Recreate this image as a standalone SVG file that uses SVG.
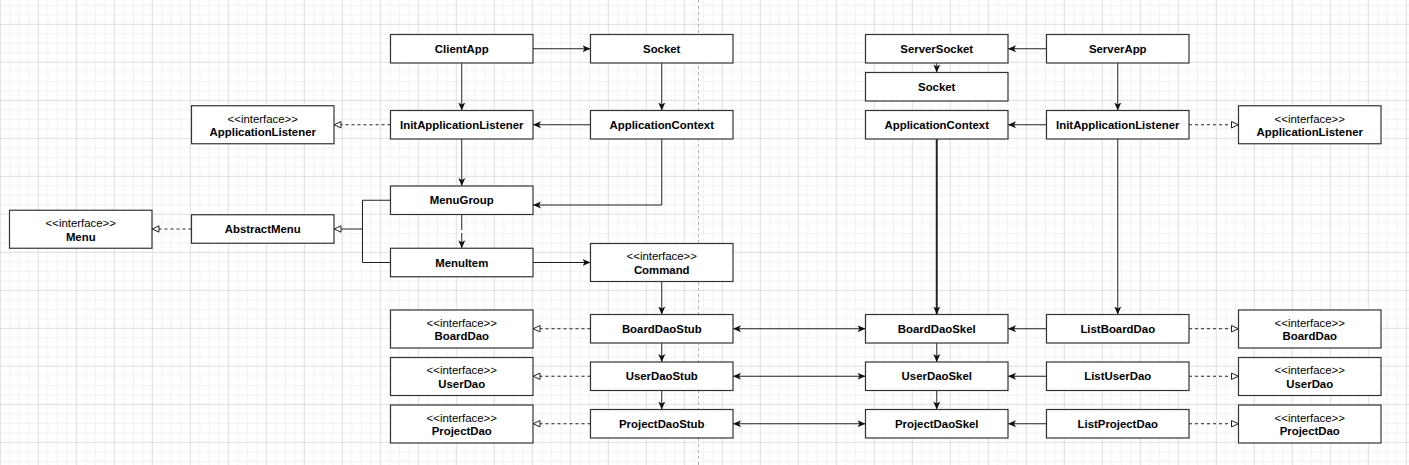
<svg xmlns="http://www.w3.org/2000/svg" width="1409" height="465" viewBox="0 0 1409 465">
<style>
.box{fill:#fff;stroke:#333;stroke-width:1.2}
.t{font-family:"Liberation Sans",Arial,sans-serif;font-size:11.4px;fill:#000;text-anchor:middle}
.b{font-weight:bold}
.c{fill:none;stroke:#222;stroke-width:1}
.arr{marker-end:url(#fa)}
.dbl{marker-start:url(#fa);marker-end:url(#fa)}
.real{stroke-dasharray:3 3;marker-end:url(#ha)}
.inh{marker-end:url(#ha)}
</style>
<defs>
<pattern id="grid" x="37.8" y="23.8" width="38" height="38" patternUnits="userSpaceOnUse">
<path d="M10,0V38M19.5,0V38M29,0V38M0,10H38M0,19.5H38M0,29H38" stroke="#f1f1f1" stroke-width="1" fill="none"/>
<path d="M0.5,0V38M0,0.5H38" stroke="#dedede" stroke-width="1" fill="none"/>
</pattern>
<marker id="fa" viewBox="0 0 8 8" refX="8" refY="4" markerWidth="8" markerHeight="8" markerUnits="userSpaceOnUse" orient="auto-start-reverse">
<path d="M0,0.5L8,4L0,7.5L2,4Z" fill="#111"/>
</marker>
<marker id="ha" viewBox="0 0 9 9" refX="8.5" refY="4.5" markerWidth="9" markerHeight="9" markerUnits="userSpaceOnUse" orient="auto">
<path d="M1.5,1.3L8.3,4.5L1.5,7.7Z" fill="#fff" stroke="#222" stroke-width="1"/>
</marker>
</defs>
<rect x="0" y="0" width="1409" height="465" fill="#fff"/>
<rect x="0" y="0" width="1409" height="465" fill="url(#grid)"/>
<line x1="698.5" y1="0" x2="698.5" y2="465" stroke="#b3b3b3" stroke-width="1" stroke-dasharray="3 3"/>

<g id="connectors">
<path class="c arr" d="M533,48.75H590.5"/>
<path class="c arr" d="M461.75,63V110.5"/>
<path class="c arr" d="M661.75,63V110.5"/>
<path class="c arr" d="M590.5,124.75H533"/>
<path class="c real" d="M390.5,124.75H334"/>
<path class="c arr" d="M461.75,139V186"/>
<path class="c arr" d="M661.75,139V205H533"/>
<path class="c" d="M461.75,214.5V230"/>
<path class="c arr" d="M461.75,233V248.25"/>
<path class="c inh" d="M390.5,200.25H362.5V229H334"/>
<path class="c" d="M390.5,262.5H362.5V229"/>
<path class="c real" d="M191.5,229H152"/>
<path class="c arr" d="M533,262.5H590.5"/>
<path class="c arr" d="M661.75,281.5V314.5"/>
<path class="c arr" d="M661.75,343V362"/>
<path class="c arr" d="M661.75,390.5V409.5"/>
<path class="c real" d="M590.5,328.75H533"/>
<path class="c real" d="M590.5,376.25H533"/>
<path class="c real" d="M590.5,423.75H533"/>
<path class="c dbl" d="M733,328.75H865.5"/>
<path class="c dbl" d="M733,376.25H865.5"/>
<path class="c dbl" d="M733,423.75H865.5"/>
<path class="c arr" d="M1046.5,48.75H1008"/>
<path class="c arr" d="M936.75,63V72.5"/>
<path class="c arr" d="M1117.75,63V110.5"/>
<path class="c arr" d="M1046.5,124.75H1008"/>
<path class="c real" d="M1189,124.75H1238.5"/>
<path class="c arr" d="M936.75,139V314.5" style="stroke-width:2"/>
<path class="c arr" d="M1117.75,139V314.5"/>
<path class="c arr" d="M936.75,343V362"/>
<path class="c arr" d="M936.75,390.5V409.5"/>
<path class="c arr" d="M1046.5,328.75H1008"/>
<path class="c arr" d="M1046.5,376.25H1008"/>
<path class="c arr" d="M1046.5,423.75H1008"/>
<path class="c real" d="M1189,328.75H1238.5"/>
<path class="c real" d="M1189,376.25H1238.5"/>
<path class="c real" d="M1189,423.75H1238.5"/>
</g>

<g id="clientApp"><rect class="box" x="390.5" y="34.5" width="142.5" height="28.5"/><text class="t b" x="461.75" y="52.8">ClientApp</text></g>
<g id="socketL"><rect class="box" x="590.5" y="34.5" width="142.5" height="28.5"/><text class="t b" x="661.75" y="52.8">Socket</text></g>
<g id="initAppListenerL"><rect class="box" x="390.5" y="110.5" width="142.5" height="28.5"/><text class="t b" x="461.75" y="128.8">InitApplicationListener</text></g>
<g id="appContextL"><rect class="box" x="590.5" y="110.5" width="142.5" height="28.5"/><text class="t b" x="661.75" y="128.8">ApplicationContext</text></g>
<g id="appListenerL"><rect class="box" x="191.5" y="105.75" width="142.5" height="38"/><text class="t" x="262.75" y="122.7">&lt;&lt;interface&gt;&gt;</text><text class="t b" x="262.75" y="136">ApplicationListener</text></g>
<g id="menuGroup"><rect class="box" x="390.5" y="186" width="142.5" height="28.5"/><text class="t b" x="461.75" y="204.3">MenuGroup</text></g>
<g id="menuItem"><rect class="box" x="390.5" y="248.25" width="142.5" height="28.5"/><text class="t b" x="461.75" y="266.6">MenuItem</text></g>
<g id="abstractMenu"><rect class="box" x="191.5" y="214.75" width="142.5" height="28.5"/><text class="t b" x="262.75" y="233">AbstractMenu</text></g>
<g id="menu"><rect class="box" x="9.5" y="210.25" width="142.5" height="38"/><text class="t" x="80.75" y="227.2">&lt;&lt;interface&gt;&gt;</text><text class="t b" x="80.75" y="240.5">Menu</text></g>
<g id="command"><rect class="box" x="590.5" y="243.5" width="142.5" height="38"/><text class="t" x="661.75" y="260.4">&lt;&lt;interface&gt;&gt;</text><text class="t b" x="661.75" y="273.7">Command</text></g>
<g id="boardDaoL"><rect class="box" x="390.5" y="310" width="142.5" height="38"/><text class="t" x="461.75" y="326.9">&lt;&lt;interface&gt;&gt;</text><text class="t b" x="461.75" y="340.2">BoardDao</text></g>
<g id="userDaoL"><rect class="box" x="390.5" y="357.5" width="142.5" height="38"/><text class="t" x="461.75" y="374.4">&lt;&lt;interface&gt;&gt;</text><text class="t b" x="461.75" y="387.7">UserDao</text></g>
<g id="projectDaoL"><rect class="box" x="390.5" y="405" width="142.5" height="38"/><text class="t" x="461.75" y="421.9">&lt;&lt;interface&gt;&gt;</text><text class="t b" x="461.75" y="435.2">ProjectDao</text></g>
<g id="boardDaoStub"><rect class="box" x="590.5" y="314.5" width="142.5" height="28.5"/><text class="t b" x="661.75" y="332.8">BoardDaoStub</text></g>
<g id="userDaoStub"><rect class="box" x="590.5" y="362" width="142.5" height="28.5"/><text class="t b" x="661.75" y="380.3">UserDaoStub</text></g>
<g id="projectDaoStub"><rect class="box" x="590.5" y="409.5" width="142.5" height="28.5"/><text class="t b" x="661.75" y="427.8">ProjectDaoStub</text></g>

<g id="serverSocket"><rect class="box" x="865.5" y="34.5" width="142.5" height="28.5"/><text class="t b" x="936.75" y="52.8">ServerSocket</text></g>
<g id="socketR"><rect class="box" x="865.5" y="72.5" width="142.5" height="28.5"/><text class="t b" x="936.75" y="90.8">Socket</text></g>
<g id="appContextR"><rect class="box" x="865.5" y="110.5" width="142.5" height="28.5"/><text class="t b" x="936.75" y="128.8">ApplicationContext</text></g>
<g id="serverApp"><rect class="box" x="1046.5" y="34.5" width="142.5" height="28.5"/><text class="t b" x="1117.75" y="52.8">ServerApp</text></g>
<g id="initAppListenerR"><rect class="box" x="1046.5" y="110.5" width="142.5" height="28.5"/><text class="t b" x="1117.75" y="128.8">InitApplicationListener</text></g>
<g id="appListenerR"><rect class="box" x="1238.5" y="105.75" width="142.5" height="38"/><text class="t" x="1309.75" y="122.7">&lt;&lt;interface&gt;&gt;</text><text class="t b" x="1309.75" y="136">ApplicationListener</text></g>
<g id="boardDaoSkel"><rect class="box" x="865.5" y="314.5" width="142.5" height="28.5"/><text class="t b" x="936.75" y="332.8">BoardDaoSkel</text></g>
<g id="userDaoSkel"><rect class="box" x="865.5" y="362" width="142.5" height="28.5"/><text class="t b" x="936.75" y="380.3">UserDaoSkel</text></g>
<g id="projectDaoSkel"><rect class="box" x="865.5" y="409.5" width="142.5" height="28.5"/><text class="t b" x="936.75" y="427.8">ProjectDaoSkel</text></g>
<g id="listBoardDao"><rect class="box" x="1046.5" y="314.5" width="142.5" height="28.5"/><text class="t b" x="1117.75" y="332.8">ListBoardDao</text></g>
<g id="listUserDao"><rect class="box" x="1046.5" y="362" width="142.5" height="28.5"/><text class="t b" x="1117.75" y="380.3">ListUserDao</text></g>
<g id="listProjectDao"><rect class="box" x="1046.5" y="409.5" width="142.5" height="28.5"/><text class="t b" x="1117.75" y="427.8">ListProjectDao</text></g>
<g id="boardDaoR"><rect class="box" x="1238.5" y="310" width="142.5" height="38"/><text class="t" x="1309.75" y="326.9">&lt;&lt;interface&gt;&gt;</text><text class="t b" x="1309.75" y="340.2">BoardDao</text></g>
<g id="userDaoR"><rect class="box" x="1238.5" y="357.5" width="142.5" height="38"/><text class="t" x="1309.75" y="374.4">&lt;&lt;interface&gt;&gt;</text><text class="t b" x="1309.75" y="387.7">UserDao</text></g>
<g id="projectDaoR"><rect class="box" x="1238.5" y="405" width="142.5" height="38"/><text class="t" x="1309.75" y="421.9">&lt;&lt;interface&gt;&gt;</text><text class="t b" x="1309.75" y="435.2">ProjectDao</text></g>
</svg>
